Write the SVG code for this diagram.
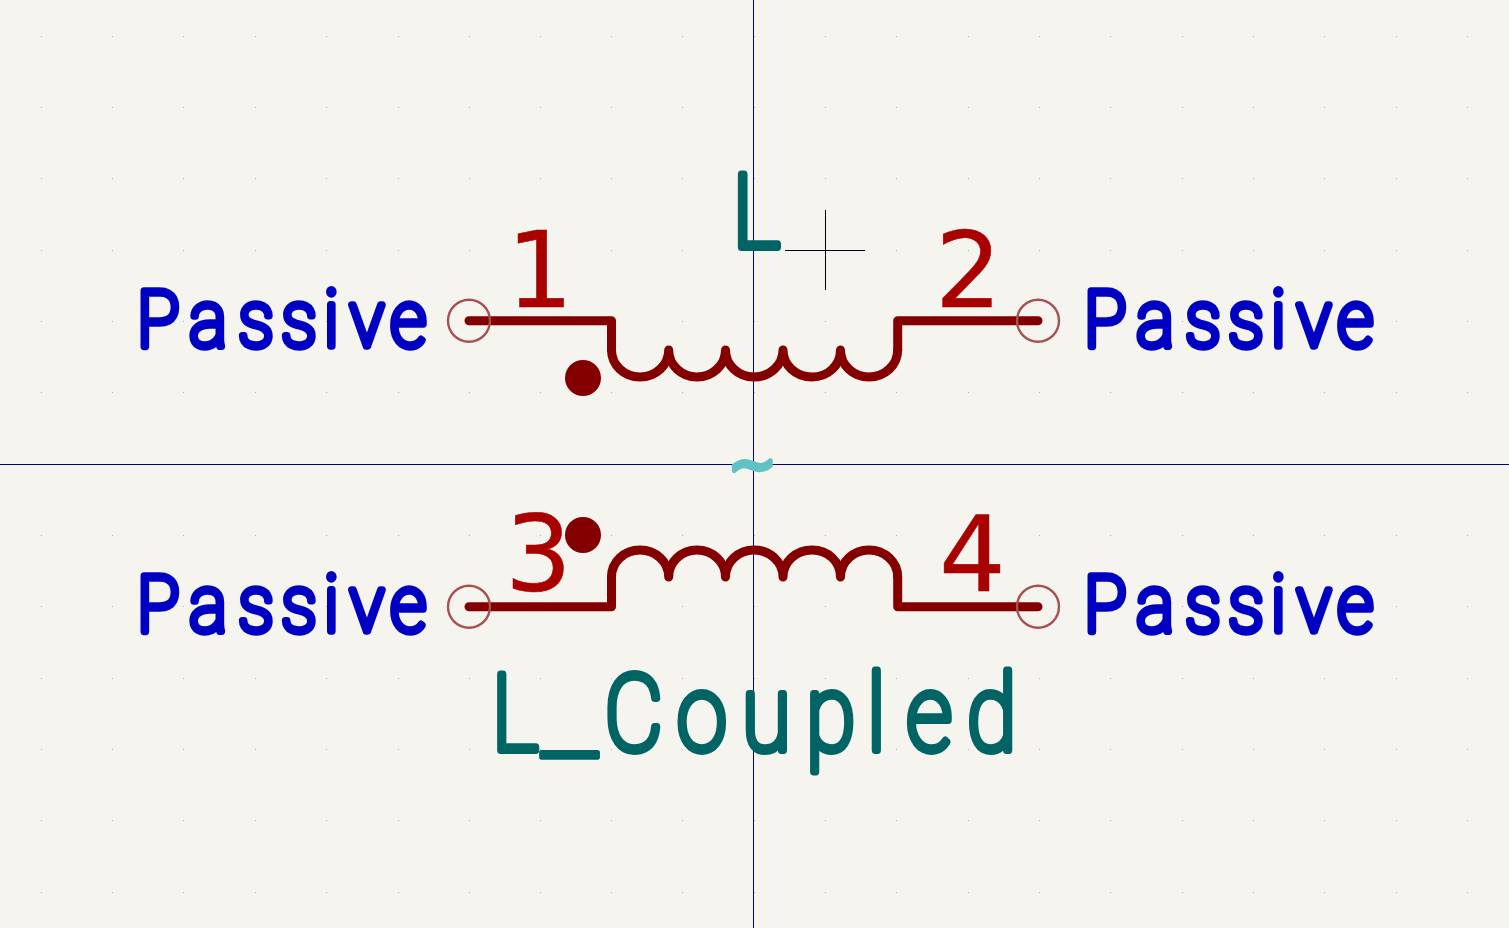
<svg xmlns="http://www.w3.org/2000/svg" width="1509" height="928" viewBox="0 0 1509 928">
<style>
.bg{fill:#f5f4ef}
.axis{stroke:#000084;stroke-width:1;fill:none}
.cross{stroke:#000;stroke-width:1;fill:none}
.body{stroke:#840000;stroke-width:9;fill:none;stroke-linecap:round;stroke-linejoin:round}
.dot{fill:#840000}
.pin{stroke:#a85050;stroke-width:2.4;fill:none}
text{font-family:Roboto,"Liberation Sans",sans-serif;font-weight:100;stroke-linejoin:round;stroke-linecap:round}
.type{font-size:77px;fill:#0000c2;stroke:#0000c2;stroke-width:7.4}
.num{font-family:"DejaVu Sans",sans-serif;font-weight:400;font-size:105px;fill:#a90000;stroke:#a90000;stroke-width:.5}
.ref{font-size:102px;fill:#006464;stroke:#006464;stroke-width:8}
.val{font-size:106px;fill:#006464;stroke:#006464;stroke-width:8}
.tilde{font-family:"DejaVu Sans",sans-serif;font-weight:400;font-size:58px;fill:#61c2c6;stroke:#61c2c6;stroke-width:4.5}
</style>
<defs>
<path id="row" fill="#b5b4b0" d="M41 0h1v1h-1zM112 0h1v1h-1zM183 0h1v1h-1zM255 0h1v1h-1zM326 0h1v1h-1zM398 0h1v1h-1zM469 0h1v1h-1zM540 0h1v1h-1zM611 0h1v1h-1zM682 0h1v1h-1zM754 0h1v1h-1zM825 0h1v1h-1zM896 0h1v1h-1zM968 0h1v1h-1zM1039 0h1v1h-1zM1110 0h1v1h-1zM1182 0h1v1h-1zM1253 0h1v1h-1zM1324 0h1v1h-1zM1396 0h1v1h-1zM1467 0h1v1h-1z"/>
</defs>
<rect class="bg" width="1509" height="928"/>
<g id="grid">
<use href="#row" y="36"/><use href="#row" y="107"/><use href="#row" y="178"/><use href="#row" y="250"/><use href="#row" y="321"/><use href="#row" y="392"/><use href="#row" y="464"/><use href="#row" y="535"/><use href="#row" y="606"/><use href="#row" y="678"/><use href="#row" y="749"/><use href="#row" y="820"/><use href="#row" y="892"/>
</g>
<g id="axes">
<path class="axis" d="M753.5 0V928M0 464.5H1509"/>
<path class="cross" d="M825.5 210V290M785 250.5H865"/>
</g>
<g id="connectors">
<path class="body" d="M469 320.7H611.5V350"/>
<path class="body" d="M1038 320.7H897.7V350"/>
<path class="body" d="M469 606.7H611.5V577"/>
<path class="body" d="M1038 606.7H897.7V577"/>
</g>
<g id="winding-top">
<path class="body" d="M611.5 350C611.5 365 624.2 377 640 377S668.7 365 668.7 350C668.7 365 681.4 377 697 377S725.5 365 725.5 350C725.5 365 738.2 377 754 377S783 365 783 350C783 365 795.7 377 812 377S840.5 365 840.5 350C840.5 365 853.2 377 869 377S897.7 365 897.7 350"/>
<circle class="dot" cx="583" cy="378" r="18"/>
</g>
<g id="winding-bottom">
<path class="body" d="M611.5 577C611.5 562 624.2 550 640 550S668.7 562 668.7 577C668.7 562 681.4 550 697 550S725.5 562 725.5 577C725.5 562 738.2 550 754 550S783 562 783 577C783 562 795.7 550 812 550S840.5 562 840.5 577C840.5 562 853.2 550 869 550S897.7 562 897.7 577"/>
<circle class="dot" cx="583" cy="535" r="18"/>
</g>
<g id="pin-1"><circle class="pin" cx="469" cy="320.7" r="21"/><text class="num" x="506.5" y="307">1</text><text class="type" y="346" transform="scale(.92 1)"><tspan x="149 206 259.2 306 352.2 380.4 424.5">Passive</tspan></text></g>
<g id="pin-2"><circle class="pin" cx="1038" cy="320.7" r="21"/><text class="num" x="935" y="307">2</text><text class="type" y="346" transform="scale(.92 1)"><tspan x="1178.4 1235.3 1288.6 1335.3 1381.5 1409.8 1453.8">Passive</tspan></text></g>
<g id="pin-3"><circle class="pin" cx="469" cy="606.7" r="21"/><text class="num" x="505" y="591">3</text><text class="type" y="631" transform="scale(.92 1)"><tspan x="149 206 259.2 306 352.2 380.4 424.5">Passive</tspan></text></g>
<g id="pin-4"><circle class="pin" cx="1038" cy="606.7" r="21"/><text class="num" x="939" y="591">4</text><text class="type" y="631" transform="scale(.92 1)"><tspan x="1178.4 1235.3 1288.6 1335.3 1381.5 1409.8 1453.8">Passive</tspan></text></g>
<g id="reference"><text class="ref" x="813.8" y="247" transform="scale(.9 1)">L</text></g>
<g id="value"><text class="val" y="750" transform="scale(.85 1)"><tspan x="578.5">L</tspan><tspan x="637" dy="3" font-size="160" stroke-width="5.5">_</tspan><tspan x="711.2 796.5 872.7 948.2 1020 1066.6 1137.6" dy="-3">Coupled</tspan></text></g>
<g id="description"><text class="tilde" x="728" y="484">~</text></g>
</svg>
